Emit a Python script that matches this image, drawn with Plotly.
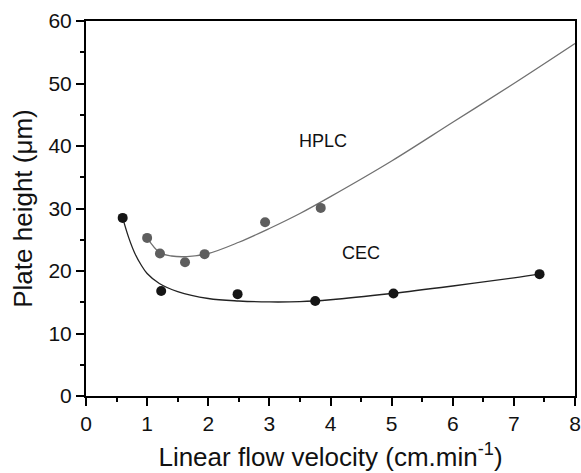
import plotly.graph_objects as go

# Measured points
cec_x = [0.6, 1.23, 2.48, 3.75, 5.03, 7.42]
cec_y = [28.5, 16.8, 16.3, 15.2, 16.4, 19.5]
hplc_x = [1.0, 1.21, 1.62, 1.94, 2.93, 3.84]
hplc_y = [25.3, 22.8, 21.4, 22.7, 27.8, 30.1]

# Fitted curves
cec_fit_x = [0.6, 0.7, 0.8, 0.9, 1.0, 1.2, 1.5, 2.0, 2.5, 3.0, 3.5, 4.0, 5.0, 6.0, 7.0, 7.42]
cec_fit_y = [28.5, 25.3, 22.8, 21.0, 19.6, 18.0, 16.7, 15.6, 15.2, 15.05, 15.1, 15.4, 16.4, 17.6, 18.9, 19.5]
hplc_fit_x = [1.0, 1.2, 1.4, 1.65, 2.0, 2.5, 3.0, 3.5, 4.0, 5.0, 6.0, 7.0, 8.0]
hplc_fit_y = [25.3, 23.0, 22.4, 22.3, 22.8, 24.6, 26.8, 29.2, 31.9, 37.6, 43.8, 50.0, 56.4]

FONT = "Liberation Sans, Arial"

fig = go.Figure()
fig.add_trace(go.Scatter(x=hplc_fit_x, y=hplc_fit_y, mode="lines",
                         line=dict(color="#707070", width=1.3, shape="spline"), showlegend=False))
fig.add_trace(go.Scatter(x=cec_fit_x, y=cec_fit_y, mode="lines",
                         line=dict(color="#222222", width=1.3, shape="spline"), showlegend=False))
fig.add_trace(go.Scatter(x=hplc_x, y=hplc_y, mode="markers",
                         marker=dict(color="#5e5e5e", size=10), showlegend=False))
fig.add_trace(go.Scatter(x=cec_x, y=cec_y, mode="markers",
                         marker=dict(color="#151515", size=10), showlegend=False))

fig.add_annotation(x=3.88, y=40.8, text="HPLC", showarrow=False,
                   font=dict(size=18, color="#111", family=FONT))
fig.add_annotation(x=4.5, y=22.9, text="CEC", showarrow=False,
                   font=dict(size=18, color="#111", family=FONT))

axis_common = dict(showline=True, linecolor="black", linewidth=2, mirror=True,
                   ticks="outside", ticklen=8, tickwidth=2, tickcolor="black",
                   showgrid=False, zeroline=False, automargin=False,
                   tickfont=dict(size=21, color="#111", family=FONT))

fig.update_xaxes(range=[0, 8], tick0=0, dtick=1,
                 minor=dict(ticks="outside", ticklen=4, tickwidth=2, tickcolor="black", dtick=0.5),
                 title=dict(text="Linear flow velocity (cm.min<sup>-1</sup>)", standoff=14,
                            font=dict(size=26, color="#111", family=FONT)),
                 **axis_common)
fig.update_yaxes(range=[0, 60], tick0=0, dtick=10,
                 minor=dict(ticks="outside", ticklen=4, tickwidth=2, tickcolor="black", dtick=5),
                 title=dict(text="Plate height (μm)", standoff=8,
                            font=dict(size=26, color="#111", family=FONT)),
                 **axis_common)

fig.update_layout(width=581, height=473, margin=dict(l=86, r=6, t=21, b=77),
                  plot_bgcolor="white", paper_bgcolor="white")
fig.write_html("out.html", config={"displayModeBar": False},
               post_script="document.body.style.margin='0';document.body.style.overflow='hidden';")
